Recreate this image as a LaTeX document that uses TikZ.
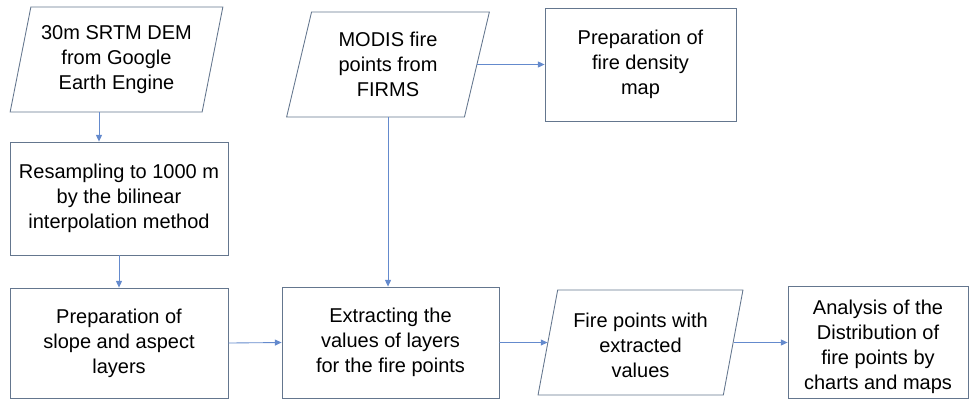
\documentclass[tikz,border=0pt]{standalone}
\usepackage{fontspec}
\setmainfont{Liberation Sans}
\usetikzlibrary{arrows.meta,shapes.geometric}
\definecolor{boxline}{RGB}{100,118,142}
\definecolor{arrline}{RGB}{100,138,205}
\newcommand{\lowered}[1]{\raisebox{-4pt}[\height][\depth]{\begin{tabular}{@{}c@{}}#1\end{tabular}}}
\begin{document}
\begin{tikzpicture}[x=0.75pt,y=-0.75pt,
  every node/.style={font=\fontsize{15pt}{18.75pt}\selectfont, align=center, inner sep=0pt, text=black},
  rbox/.style={draw=boxline, line width=0.65pt, rectangle},
  pbox/.style={draw=boxline, line width=0.65pt, trapezium, trapezium stretches=true},
  arr/.style={draw=arrline, line width=0.65pt, -{Triangle[length=5pt,width=4.5pt]}}]
\useasboundingbox (0,0) rectangle (971,401);
\node[pbox, trapezium left angle=75, trapezium right angle=105, minimum width=213*0.75pt, minimum height=105*0.75pt] (srtm) at (116.5,59.5) {30m SRTM DEM\\from Google\\Earth Engine};
\node[pbox, trapezium left angle=76, trapezium right angle=104, minimum width=204*0.75pt, minimum height=105*0.75pt] (modis) at (388,64.5) {MODIS fire\\points from\\FIRMS};
\node[rbox, minimum width=191*0.75pt, minimum height=113*0.75pt] (dens) at (640.5,64.5) {Preparation of\\fire density\\map};
\node[rbox, minimum width=218*0.75pt, minimum height=113*0.75pt] (res) at (119,198.5) {Resampling to 1000 m\\by the bilinear\\interpolation method};
\node[rbox, minimum width=218*0.75pt, minimum height=110*0.75pt] (slope) at (119,343) {Preparation of\\slope and aspect\\layers};
\node[rbox, minimum width=217*0.75pt, minimum height=111*0.75pt] (ext) at (390.5,342.5) {Extracting the\\values of layers\\for the fire points};
\node[pbox, trapezium left angle=78, trapezium right angle=102, minimum width=205*0.75pt, minimum height=105*0.75pt] (fp) at (640.5,342.5) {\lowered{Fire points with\\extracted\\values}};
\node[rbox, minimum width=180*0.75pt, minimum height=112*0.75pt] (ana) at (878,342) {\lowered{Analysis of the\\Distribution of\\fire points by\\charts and maps}};
\coordinate (c1) at (99,0);
\draw[arr] (srtm.south -| c1) -- (res.north -| c1);
\draw[arr] (res.south) -- (slope.north);
\draw[arr] (slope.east) -- (ext.west);
\draw[arr] (modis.south) -- (modis.south |- ext.north);
\draw[arr] (modis.east) -- (dens.west |- modis.east);
\draw[arr] (ext.east) -- (fp.west);
\draw[arr] (fp.east) -- (ana.west |- fp.east);
\end{tikzpicture}
\end{document}
